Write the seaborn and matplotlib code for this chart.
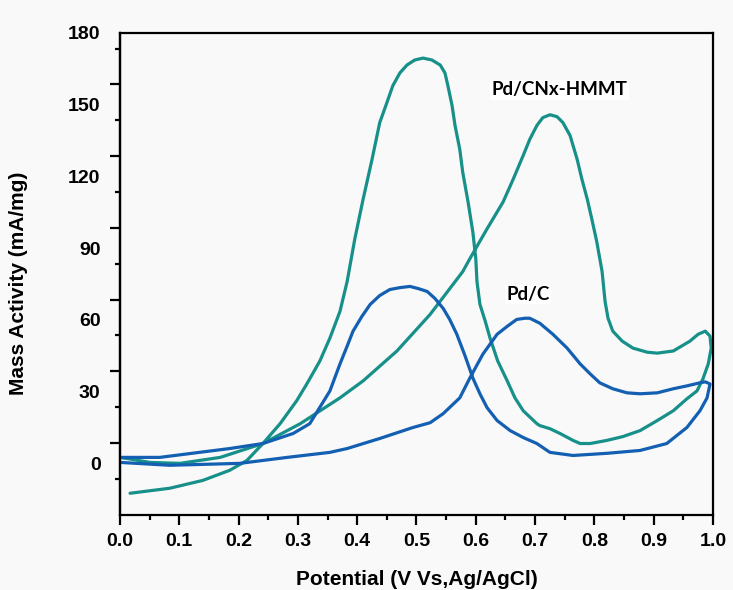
import numpy as np
import pandas as pd
import matplotlib
matplotlib.use("Agg")
import matplotlib.pyplot as plt
import seaborn as sns
from matplotlib.ticker import FixedLocator

# traced CV loops (potential V, mass activity mA/mg)
hmmt_x = [0.0, 0.051, 0.101, 0.169, 0.241, 0.304, 0.371, 0.410, 0.467, 0.523, 0.578, 0.590,
          0.619, 0.646, 0.663, 0.680, 0.691, 0.703, 0.713, 0.725, 0.737, 0.747, 0.759, 0.771,
          0.779, 0.788, 0.796, 0.804, 0.813, 0.818, 0.823, 0.831, 0.847, 0.865, 0.889, 0.906,
          0.933, 0.961, 0.975, 0.987, 0.995, 0.997, 0.992, 0.983, 0.973, 0.956, 0.933, 0.906,
          0.877, 0.848, 0.821, 0.793, 0.776, 0.764, 0.742, 0.725, 0.708, 0.703, 0.680, 0.666,
          0.653, 0.637, 0.624, 0.616, 0.607, 0.602, 0.600, 0.595, 0.587, 0.578, 0.573, 0.565,
          0.560, 0.553, 0.548, 0.540, 0.526, 0.511, 0.497, 0.484, 0.472, 0.460, 0.450, 0.438,
          0.425, 0.410, 0.396, 0.383, 0.371, 0.354, 0.337, 0.315, 0.298, 0.270, 0.241, 0.214,
          0.185, 0.140, 0.084, 0.017]
hmmt_y = [2.5, 0.4, 0.0, 2.5, 8.3, 16.6, 27.4, 34.5, 47.0, 62.3, 80.2, 85.6,
          98.1, 109.3, 118.8, 128.8, 135.5, 141.3, 144.6, 145.8, 145.0, 142.5, 137.1, 127.1,
          118.8, 110.5, 101.8, 92.7, 80.2, 67.7, 60.7, 55.3, 51.1, 48.2, 46.5, 46.1,
          47.0, 51.1, 54.0, 55.3, 53.2, 48.2, 41.6, 35.3, 30.3, 27.0, 22.0, 17.9,
          13.7, 11.2, 9.6, 8.3, 8.3, 9.6, 12.5, 14.5, 15.8, 16.6, 22.0, 27.4,
          34.5, 42.8, 52.4, 59.4, 66.5, 76.0, 85.6, 96.8, 109.3, 121.7, 131.3, 141.3,
          149.6, 157.9, 163.3, 166.6, 168.7, 169.5, 168.7, 166.6, 163.3, 157.9, 150.8, 142.5,
          127.1, 110.5, 93.9, 76.0, 63.6, 52.4, 42.8, 33.2, 26.2, 16.6, 8.3, 1.2,
          -2.9, -7.1, -10.4, -12.5]

pdc_x = [0.0, 0.067, 0.185, 0.241, 0.292, 0.320, 0.354, 0.371, 0.383, 0.393, 0.408, 0.422,
         0.438, 0.455, 0.472, 0.489, 0.503, 0.518, 0.531, 0.545, 0.556, 0.568, 0.582, 0.595,
         0.607, 0.619, 0.636, 0.658, 0.680, 0.703, 0.725, 0.764, 0.821, 0.877, 0.922, 0.956,
         0.978, 0.990, 0.995, 0.987, 0.978, 0.956, 0.933, 0.906, 0.877, 0.855, 0.831, 0.809,
         0.793, 0.776, 0.754, 0.730, 0.708, 0.691, 0.683, 0.669, 0.653, 0.636, 0.612, 0.590,
         0.573, 0.545, 0.523, 0.494, 0.438, 0.383, 0.354, 0.282, 0.202, 0.084, 0.0]
pdc_y = [2.5, 2.5, 6.2, 8.3, 12.5, 16.6, 30.3, 41.6, 49.0, 55.3, 61.5, 66.5,
         70.2, 72.7, 73.5, 74.0, 73.1, 71.9, 69.0, 64.8, 60.2, 54.0, 44.9, 35.7,
         29.1, 23.3, 17.9, 13.7, 10.8, 8.3, 4.6, 3.3, 4.2, 5.4, 8.3, 15.0,
         22.0, 27.4, 33.2, 34.1, 33.7, 32.4, 31.2, 29.5, 29.1, 29.5, 31.2, 33.7,
         37.4, 41.6, 48.2, 54.0, 58.6, 60.7, 60.7, 60.2, 57.3, 54.0, 45.7, 35.7,
         27.4, 20.8, 17.0, 15.0, 10.4, 6.2, 4.6, 2.5, 0.0, -0.8, 0.4]

x_ticks = [0.0, 0.1, 0.2, 0.3, 0.4, 0.5, 0.6, 0.7, 0.8, 0.9, 1.0]
y_ticks = [0, 30, 60, 90, 120, 150, 180]

sns.set_style("ticks")
plt.rcParams['font.family'] = ['Liberation Sans', 'DejaVu Sans']
plt.rcParams['text.color'] = 'black'
plt.rcParams['axes.labelcolor'] = 'black'
plt.rcParams['xtick.color'] = 'black'
plt.rcParams['ytick.color'] = 'black'

bg = '#f9f9f9'
fig = plt.figure(figsize=(7.33, 5.90), dpi=100, facecolor=bg)
ax = fig.add_axes([0.1637, 0.1271, 0.809, 0.817])
ax.set_facecolor(bg)

df_hmmt = pd.DataFrame({'x': hmmt_x, 'y': hmmt_y})
df_pdc = pd.DataFrame({'x': pdc_x, 'y': pdc_y})
line_kw = dict(sort=False, estimator=None, lw=2.3, solid_joinstyle='round', solid_capstyle='round', ax=ax)
sns.lineplot(data=df_hmmt, x='x', y='y', color='#17908a', **line_kw)
sns.lineplot(data=df_pdc, x='x', y='y', color='#135fb2', **line_kw)

ax.set_xlim(0, 1.0)
ax.set_ylim(-21.6, 178.7)

for s in ax.spines.values():
    s.set_linewidth(1.6)
    s.set_color('black')

# x ticks
ax.set_xticks(x_ticks)
ax.set_xticklabels([f'{v:.1f}' for v in x_ticks], fontsize=14, fontweight='bold')
ax.xaxis.set_minor_locator(FixedLocator(np.arange(0.05, 1.0, 0.1)))
ax.tick_params(axis='x', which='major', direction='out', length=7, width=1.6, pad=6)
ax.tick_params(axis='x', which='minor', direction='out', length=3.5, width=1.6)

# y labels (tick marks drawn separately, offset like the original)
ax.set_yticks(y_ticks)
ax.set_yticklabels([str(v) for v in y_ticks], fontsize=14, fontweight='bold')
ax.tick_params(axis='y', which='major', length=0, pad=14)
sec = ax.secondary_yaxis('left')
sec.set_yticks([8.5 + 30 * k for k in range(6)])
sec.set_yticklabels([])
sec.yaxis.set_minor_locator(FixedLocator([-6.5 + 30 * k for k in range(7)]))
sec.tick_params(axis='y', which='major', direction='out', length=7, width=1.6, color='black')
sec.tick_params(axis='y', which='minor', direction='out', length=3.5, width=1.6, color='black')
sec.spines['left'].set_linewidth(1.6)
sec.spines['left'].set_color('black')

ax.set_xlabel('Potential (V Vs,Ag/AgCl)', fontsize=15, fontweight='bold', color='black')
ax.set_ylabel('Mass Activity (mA/mg)', fontsize=15, fontweight='bold', color='black')
ax.xaxis.set_label_coords(0.5, -0.115)
ax.yaxis.set_label_coords(-0.155, 0.48)

ax.text(0.627, 156.2, 'Pd/CNx-HMMT', fontsize=13.5, fontweight='bold', family=['Lato', 'DejaVu Sans'],
        color='black', va='center', ha='left', bbox=dict(facecolor='white', edgecolor='none', pad=1))
ax.text(0.651, 70.6, 'Pd/C', fontsize=13.5, fontweight='bold', family=['Lato', 'DejaVu Sans'],
        color='black', va='center', ha='left', bbox=dict(facecolor='white', edgecolor='none', pad=1))

fig.savefig('out.png', dpi=100, facecolor=bg)
